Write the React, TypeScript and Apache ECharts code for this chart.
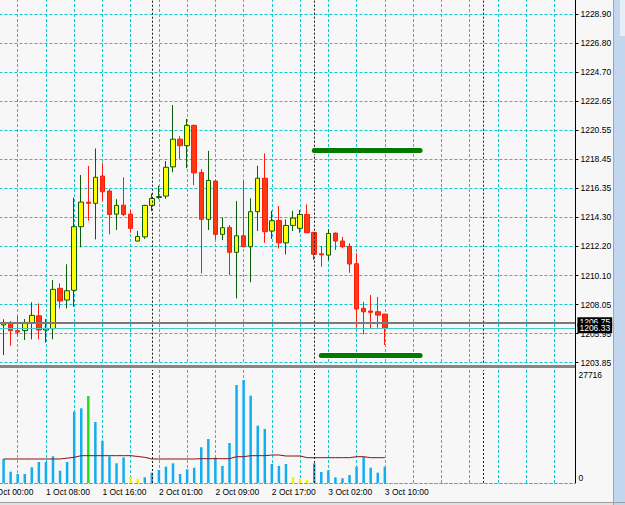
import React, { useEffect, useRef } from "react";
import * as echarts from "echarts";

// ---------- data ----------
const TIME_LABELS = ["1 Oct 00:00", "1 Oct 08:00", "1 Oct 16:00", "2 Oct 01:00", "2 Oct 09:00", "2 Oct 17:00", "3 Oct 02:00", "3 Oct 10:00"];
const BARS_PER_LABEL = 8;
const BARS_PER_GRID = 4;
const TOTAL_SLOTS = 84; // hourly slots incl. empty future space
const FIRST_BAR = 2; // first visible bar: 1 Oct 02:00

const OPEN = [1206.56, 1206.72, 1206.15, 1206.15, 1206.72, 1207.22, 1206.2, 1206.29, 1209.19, 1208.35, 1209.05, 1213.62, 1215.38, 1215.3, 1217.26, 1216.18, 1214.52, 1215.17, 1214.52, 1212.59, 1212.89, 1215.15, 1215.72, 1215.82, 1217.92, 1219.91, 1219.44, 1220.9, 1217.52, 1214.15, 1216.9, 1213.07, 1213.57, 1211.78, 1212.97, 1212.18, 1214.7, 1217.1, 1213.31, 1214.07, 1212.46, 1213.71, 1213.5, 1214.5, 1213.21, 1211.67, 1211.58, 1213.16, 1212.59, 1212.21, 1210.96, 1207.76, 1207.56, 1207.51, 1207.34];
const CLOSE = [1206.72, 1206.15, 1206.05, 1206.68, 1207.25, 1206.2, 1206.32, 1209.12, 1208.28, 1209.02, 1213.62, 1215.39, 1215.3, 1217.17, 1216.13, 1214.5, 1215.15, 1214.5, 1213.5, 1212.92, 1215.15, 1215.65, 1215.78, 1217.89, 1219.91, 1219.44, 1220.9, 1217.49, 1214.15, 1216.95, 1213.07, 1213.55, 1211.78, 1212.97, 1212.18, 1214.7, 1217.1, 1213.26, 1214.05, 1212.46, 1213.71, 1214.24, 1214.5, 1213.19, 1211.64, 1211.6, 1213.14, 1212.59, 1212.18, 1210.94, 1207.71, 1207.51, 1207.47, 1207.27, 1206.33];
const LOW = [1204.4, 1205.07, 1205.72, 1205.48, 1205.53, 1205.53, 1205.29, 1205.53, 1207.75, 1207.75, 1207.87, 1212.14, 1214.05, 1212.71, 1215.48, 1213.07, 1213.38, 1214.38, 1213.19, 1212.55, 1212.74, 1214.74, 1215.6, 1215.63, 1217.53, 1218.46, 1217.82, 1216.61, 1210.27, 1213.38, 1212.71, 1212.66, 1210.15, 1208.47, 1212.15, 1209.63, 1213.31, 1212.46, 1212.74, 1212.06, 1211.63, 1213.31, 1213.19, 1213.15, 1211.23, 1210.75, 1211.2, 1211.95, 1212.07, 1210.31, 1206.36, 1205.89, 1206.32, 1206.36, 1205.12];
const HIGH = [1206.97, 1206.85, 1207.2, 1206.99, 1208.19, 1208.11, 1206.99, 1209.79, 1209.55, 1210.92, 1215.7, 1217.33, 1217.98, 1219.24, 1218.21, 1216.32, 1215.6, 1217.16, 1214.82, 1213.31, 1215.19, 1216.0, 1216.56, 1218.34, 1222.36, 1220.11, 1221.36, 1220.95, 1217.76, 1219.07, 1216.95, 1214.29, 1213.74, 1215.46, 1216.9, 1215.66, 1218.0, 1218.88, 1214.76, 1215.1, 1214.14, 1214.76, 1214.82, 1215.22, 1213.25, 1212.23, 1213.45, 1213.2, 1212.88, 1212.43, 1211.71, 1208.23, 1208.71, 1208.57, 1207.36];

const VOLUME = [5890, 2770, 2210, 2210, 3850, 5150, 5150, 6550, 3020, 5150, 17490, 18320, 21340, 14960, 10300, 6550, 4830, 6300, 1550, 980, 1400, 2530, 3190, 4000, 4830, 2210, 3360, 3750, 8760, 10790, 6210, 4170, 9810, 24040, 25270, 21420, 14060, 13250, 4660, 4170, 4660, 1400, 980, 740, 4830, 2700, 3110, 1400, 1150, 1960, 4000, 6450, 3750, 2530, 4000];
// n = normal, c = climax, l = low volume
const VOLUME_KIND = "nnnnnnnnnnnncnnnnnllnnnnnnnnnnnnnnnnnnnnnlllnnnnnnnnnnn";
const VOLUME_MA = [5890, 5890, 5890, 5890, 5890, 5890, 5890, 5890, 5890, 6100, 6300, 6700, 6700, 6700, 6700, 6700, 6700, 6700, 6700, 6500, 6300, 5890, 5890, 5890, 5890, 5890, 5890, 5890, 5960, 5960, 5960, 5960, 5960, 6450, 6450, 6700, 6700, 6700, 6870, 6870, 6620, 6620, 6620, 6210, 6210, 6210, 6210, 6210, 6210, 6210, 6450, 6450, 6210, 6210, 6210];
const VOLUME_MAX = 27716;

const PRICE_LABELS = ["1203.85", "1205.95", "1208.05", "1210.10", "1212.20", "1214.30", "1216.35", "1218.45", "1220.55", "1222.65", "1224.70", "1226.80", "1228.90"];
const PRICE_MIN = 1203.85;
const PRICE_STEP = 2.0875;
const PRICE_MAX = 1229.978;

const DAY_SEPARATORS = [23, 46, 70];
const ASK_LINE = 1206.75;
const BID_LINE = 1206.33;
const LEVEL_UPPER = { from: 46, to: 61, price: 1219.11 };
const LEVEL_LOWER = { from: 47, to: 61, price: 1204.39 };

// ---------- styles ----------
const BG = "#F7F7F7";
const GRID_CYAN = "#12C6CC";
const FONT = "Liberation Sans";
const GRID_LEFT = -10.54;
const GRID_WIDTH = 585.98;

export default function App() {
  const ref = useRef<HTMLDivElement>(null);

  useEffect(() => {
    if (!ref.current) return;
    const chart = echarts.init(ref.current, undefined, { renderer: "svg" });

    const cats = Array.from({ length: TOTAL_SLOTS }, (_, i) => String(i));
    const pad = (n: number) => Array.from({ length: n }, () => "-");
    const candles = [
      ...pad(FIRST_BAR),
      ...OPEN.map((o, k) => [o, CLOSE[k], LOW[k], HIGH[k]]),
    ];
    const volColor = (k: string) => (k === "c" ? "#22E01E" : k === "l" ? "#F2F200" : "#12AEEF");
    const volumes = [
      ...pad(FIRST_BAR),
      ...VOLUME.map((v, k) => ({ value: v, itemStyle: { color: volColor(VOLUME_KIND[k]) } })),
    ];
    const volMa = [...pad(FIRST_BAR), ...VOLUME_MA];

    const sepStyle = { color: "#1A1A1A", width: 1, type: [2, 2] as number[] };
    const sepLines = DAY_SEPARATORS.map((x) => ({ xAxis: x, lineStyle: sepStyle, label: { show: false } }));

    const priceTag = (txt: string) => ({
      show: true,
      position: "end",
      formatter: txt,
      color: "#FFFFFF",
      backgroundColor: "#000000",
      padding: [1, 2, 0, 2],
      fontSize: 8.5,
      fontFamily: FONT,
      distance: 2,
    });

    const levelPair = (lv: { from: number; to: number; price: number }, color: string, width: number) => {
      const ls = { color, width, type: "solid", cap: "round" };
      return [
        { coord: [lv.from, lv.price], lineStyle: ls, label: { show: false } },
        { coord: [lv.to, lv.price], lineStyle: ls, label: { show: false } },
      ];
    };

    const splitX = {
      show: true,
      interval: (i: number) => i % BARS_PER_GRID === 0,
      lineStyle: { color: GRID_CYAN, width: 1, type: [3, 2] },
    };

    chart.setOption({
      animation: false,
      backgroundColor: BG,
      textStyle: { fontFamily: FONT },
      grid: [
        { left: GRID_LEFT, top: -1, width: GRID_WIDTH, height: 363.7, outerBoundsMode: "none", containLabel: false },
        { left: GRID_LEFT, top: 370, width: GRID_WIDTH, height: 113, outerBoundsMode: "none", containLabel: false },
      ],
      xAxis: [
        {
          type: "category",
          gridIndex: 0,
          data: cats,
          boundaryGap: false,
          axisLine: { show: false },
          axisTick: { show: false },
          axisLabel: { show: false },
          splitLine: splitX,
        },
        {
          type: "category",
          gridIndex: 1,
          data: cats,
          boundaryGap: false,
          axisLine: { show: true, lineStyle: { color: GRID_CYAN, width: 1, type: [3, 2] } },
          axisTick: { show: false },
          axisLabel: {
            show: true,
            interval: (i: number) => i % BARS_PER_LABEL === 0 && i / BARS_PER_LABEL < TIME_LABELS.length,
            formatter: (_v: string, i: number) => TIME_LABELS[i / BARS_PER_LABEL] ?? "",
            align: "left",
            margin: 4,
            color: "#000",
            fontSize: 8.5,
            fontFamily: FONT,
          },
          splitLine: splitX,
        },
      ],
      yAxis: [
        {
          type: "value",
          gridIndex: 0,
          position: "right",
          min: PRICE_MIN,
          max: PRICE_MAX,
          interval: PRICE_STEP,
          axisLine: { show: true, lineStyle: { color: "#000", width: 1 } },
          axisTick: { show: true, length: 3, lineStyle: { color: "#000" } },
          axisLabel: {
            show: true,
            margin: 5,
            color: "#000",
            fontSize: 8.5,
            fontFamily: FONT,
            showMaxLabel: false,
            formatter: (v: number) => {
              const k = Math.round((v - PRICE_MIN) / PRICE_STEP);
              if (Math.abs(v - (PRICE_MIN + k * PRICE_STEP)) > 0.01) return "";
              return PRICE_LABELS[k] ?? "";
            },
          },
          splitLine: { show: true, lineStyle: { color: GRID_CYAN, width: 1, type: [3, 2] } },
        },
        {
          type: "value",
          gridIndex: 1,
          position: "right",
          min: 0,
          max: VOLUME_MAX,
          interval: VOLUME_MAX,
          axisLine: { show: true, lineStyle: { color: "#000", width: 1 } },
          axisTick: { show: false },
          axisLabel: {
            show: true,
            margin: 3,
            color: "#000",
            fontSize: 8.5,
            fontFamily: FONT,
            formatter: (v: number) => (v >= VOLUME_MAX ? `{t|${v}}` : `{b|${v}}`),
            rich: {
              t: { padding: [10, 0, 0, 0], fontSize: 8.5, fontFamily: FONT, color: "#000" },
              b: { padding: [0, 0, 10, 0], fontSize: 8.5, fontFamily: FONT, color: "#000" },
            },
          },
          splitLine: { show: false },
        },
      ],
      series: [
        {
          type: "candlestick",
          xAxisIndex: 0,
          yAxisIndex: 0,
          data: candles,
          barWidth: 5,
          itemStyle: {
            color: "#FFFF00",
            color0: "#FF3A12",
            borderColor: "#0B5E0B",
            borderColor0: "#FF1A0A",
            borderWidth: 1,
          },
          markLine: {
            silent: true,
            symbol: ["none", "none"],
            animation: false,
            data: [
              ...sepLines,
              { yAxis: ASK_LINE, lineStyle: { color: "#7A7A7A", width: 2, type: "solid" }, label: priceTag("1206.75") },
              { yAxis: BID_LINE, lineStyle: { color: "#45C9C9", width: 1, type: "solid" }, label: priceTag("1206.33") },
              levelPair(LEVEL_UPPER, "#FFFFFF", 7),
              levelPair(LEVEL_LOWER, "#FFFFFF", 7),
              levelPair(LEVEL_UPPER, "#007A00", 5),
              levelPair(LEVEL_LOWER, "#007A00", 5),
            ],
          },
        },
        {
          type: "bar",
          xAxisIndex: 1,
          yAxisIndex: 1,
          data: volumes,
          barWidth: 2.5,
          markLine: {
            silent: true,
            symbol: ["none", "none"],
            animation: false,
            data: sepLines,
          },
        },
        {
          type: "line",
          xAxisIndex: 1,
          yAxisIndex: 1,
          data: volMa,
          symbol: "none",
          lineStyle: { color: "#8E1010", width: 1 },
          z: 3,
        },
      ],
      graphic: [
        { type: "rect", shape: { x: 0, y: 365, width: 575, height: 3 }, style: { fill: "#858585" }, z: 10 },
        { type: "line", shape: { x1: 575.5, y1: 0, x2: 575.5, y2: 483 }, style: { stroke: "#000", lineWidth: 1 }, z: 11 },
        { type: "rect", shape: { x: 0, y: 502, width: 625, height: 3 }, style: { fill: "#E2E2E2" }, z: 10 },
        { type: "line", shape: { x1: 0, y1: 502.5, x2: 625, y2: 502.5 }, style: { stroke: "#A0A0A0", lineWidth: 1 }, z: 11 },
        { type: "rect", shape: { x: 613, y: 0, width: 12, height: 505 }, style: { fill: "#C2D6EE" }, z: 10 },
        { type: "rect", shape: { x: 620, y: 0, width: 5, height: 36 }, style: { fill: "#E6EEF8" }, z: 11 },
        { type: "line", shape: { x1: 613.5, y1: 0, x2: 613.5, y2: 505 }, style: { stroke: "#9AA7B6", lineWidth: 1 }, z: 11 },
      ],
    });

    return () => chart.dispose();
  }, []);

  return (
    <div
      ref={ref}
      style={{ position: "fixed", left: 0, top: 0, width: 625, height: 505, background: BG }}
    />
  );
}
